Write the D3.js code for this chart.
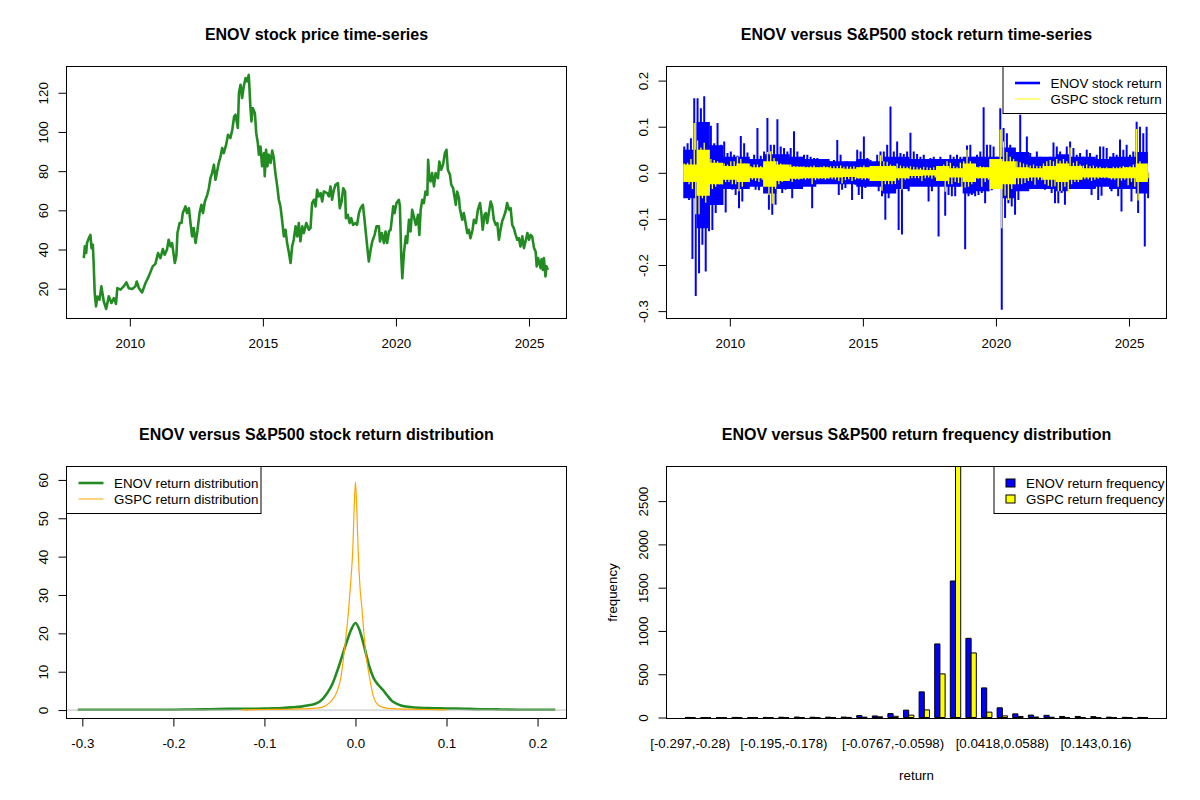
<!DOCTYPE html>
<html>
<head>
<meta charset="utf-8">
<script src="https://cdn.jsdelivr.net/npm/d3@7"></script>
<style>
body { margin: 0; background: #fff; }
svg { display: block; font-family: "Liberation Sans", Arial, sans-serif; }
</style>
</head>
<body>
<svg width="1200" height="800"></svg>
<script>
// ---- data ----
var priceYears = [2008.27, 2008.31, 2008.36, 2008.39, 2008.46, 2008.52, 2008.56, 2008.61, 2008.64, 2008.68,
    2008.73, 2008.78, 2008.86, 2008.93, 2009.02, 2009.11, 2009.21, 2009.31, 2009.40, 2009.48,
    2009.53, 2009.65, 2009.77, 2009.87, 2009.96, 2010.09, 2010.21, 2010.26, 2010.34, 2010.46,
    2010.59, 2010.71, 2010.86, 2010.96, 2011.06, 2011.15, 2011.24, 2011.31, 2011.40, 2011.46,
    2011.53, 2011.59, 2011.69, 2011.75, 2011.79, 2011.87, 2011.94, 2011.99, 2012.09, 2012.15,
    2012.22, 2012.28, 2012.34, 2012.40, 2012.47, 2012.54, 2012.62, 2012.69, 2012.75, 2012.82,
    2012.91, 2012.97, 2013.03, 2013.09, 2013.16, 2013.22, 2013.28, 2013.34, 2013.41, 2013.47,
    2013.53, 2013.62, 2013.69, 2013.78, 2013.85, 2013.92, 2013.97, 2014.06, 2014.10, 2014.16,
    2014.22, 2014.28, 2014.35, 2014.41, 2014.47, 2014.53, 2014.57, 2014.62, 2014.70, 2014.75,
    2014.81, 2014.85, 2014.91, 2014.97, 2015.04, 2015.07, 2015.12, 2015.17, 2015.22, 2015.29,
    2015.35, 2015.41, 2015.47, 2015.54, 2015.60, 2015.66, 2015.72, 2015.79, 2015.85, 2015.91,
    2015.98, 2016.04, 2016.10, 2016.16, 2016.23, 2016.29, 2016.35, 2016.41, 2016.48, 2016.54,
    2016.63, 2016.73, 2016.79, 2016.85, 2016.92, 2016.98, 2017.04, 2017.10, 2017.17, 2017.23,
    2017.29, 2017.42, 2017.48, 2017.54, 2017.60, 2017.67, 2017.73, 2017.82, 2017.89, 2017.96,
    2018.02, 2018.09, 2018.12, 2018.19, 2018.26, 2018.32, 2018.39, 2018.48, 2018.54, 2018.61,
    2018.67, 2018.76, 2018.82, 2018.87, 2018.92, 2018.98, 2019.05, 2019.11, 2019.20, 2019.27,
    2019.36, 2019.40, 2019.47, 2019.55, 2019.61, 2019.67, 2019.74, 2019.80, 2019.85, 2019.90,
    2019.95, 2020.02, 2020.11, 2020.15, 2020.20, 2020.24, 2020.30, 2020.37, 2020.42, 2020.49,
    2020.55, 2020.61, 2020.67, 2020.75, 2020.83, 2020.88, 2020.93, 2020.99, 2021.05, 2021.11,
    2021.18, 2021.21, 2021.25, 2021.30, 2021.36, 2021.43, 2021.49, 2021.58, 2021.63, 2021.70,
    2021.77, 2021.84, 2021.90, 2021.95, 2022.03, 2022.08, 2022.15, 2022.20, 2022.25, 2022.30,
    2022.37, 2022.40, 2022.49, 2022.55, 2022.62, 2022.68, 2022.74, 2022.80, 2022.88, 2022.93,
    2023.01, 2023.08, 2023.16, 2023.21, 2023.26, 2023.33, 2023.38, 2023.43, 2023.49, 2023.56,
    2023.62, 2023.68, 2023.75, 2023.81, 2023.87, 2023.93, 2023.99, 2024.06, 2024.12, 2024.18,
    2024.25, 2024.31, 2024.37, 2024.43, 2024.50, 2024.56, 2024.62, 2024.68, 2024.75, 2024.81,
    2024.87, 2024.94, 2025.00, 2025.06, 2025.12, 2025.19, 2025.25, 2025.29, 2025.34, 2025.39,
    2025.44, 2025.47, 2025.52, 2025.56, 2025.62, 2025.66, 2025.71];
var priceValues = [35.6, 41.6, 38.2, 43.3, 45.8, 47.5, 40.7, 42.4, 33.1, 17.8,
    11.0, 16.0, 14.4, 21.2, 13.6, 9.7, 16.1, 12.7, 15.2, 12.3,
    20.3, 19.5, 21.2, 23.2, 20.3, 19.8, 21.2, 23.7, 20.3, 18.1,
    22.9, 26.3, 31.4, 32.7, 38.2, 35.6, 40.2, 37.3, 40.2, 45.0,
    41.6, 43.3, 33.1, 36.9, 48.4, 53.5, 53.5, 58.6, 62.0, 58.6,
    61.1, 53.5, 46.7, 51.0, 43.3, 49.5, 58.6, 62.8, 58.6, 64.5,
    67.9, 71.3, 76.4, 79.0, 83.3, 75.6, 79.8, 84.1, 87.5, 91.8,
    89.2, 93.5, 98.6, 96.9, 101.1, 107.9, 108.8, 102.0, 119.9, 124.1,
    117.3, 123.2, 127.5, 125.8, 129.1, 113.0, 105.4, 112.2, 109.6, 99.4,
    94.3, 88.4, 92.6, 82.5, 89.2, 77.4, 90.9, 82.5, 88.4, 84.2,
    90.5, 86.7, 79.0, 72.2, 65.4, 62.0, 55.2, 46.7, 50.1, 43.3,
    38.2, 33.1, 41.6, 45.0, 51.8, 46.7, 53.5, 44.2, 51.8, 48.4,
    53.5, 50.1, 50.9, 63.7, 65.4, 62.0, 70.5, 67.1, 68.8, 64.5,
    69.6, 68.8, 67.1, 72.2, 65.4, 70.5, 73.0, 73.9, 61.1, 64.5,
    71.3, 69.6, 56.0, 57.7, 53.5, 56.0, 52.6, 53.5, 52.6, 58.6,
    61.1, 62.8, 55.2, 48.4, 41.6, 33.9, 39.9, 44.1, 47.5, 51.8,
    51.8, 44.1, 48.4, 43.3, 49.2, 43.3, 49.2, 50.1, 56.0, 62.0,
    58.6, 63.7, 65.4, 62.0, 36.5, 25.4, 38.2, 46.7, 43.3, 55.2,
    49.2, 60.3, 56.9, 52.6, 57.7, 47.5, 60.3, 65.4, 63.7, 69.6,
    67.9, 85.8, 77.3, 74.7, 79.0, 72.2, 79.0, 76.4, 84.9, 80.7,
    83.3, 89.2, 90.9, 80.7, 78.1, 73.0, 71.3, 67.1, 62.8, 69.6,
    66.2, 61.1, 55.2, 58.6, 53.5, 48.4, 50.1, 45.8, 50.1, 55.2,
    53.5, 60.3, 63.7, 58.6, 50.1, 57.7, 58.6, 53.5, 58.6, 64.5,
    62.0, 55.2, 52.6, 53.5, 45.0, 50.1, 54.3, 56.9, 59.4, 63.7,
    60.3, 61.1, 52.6, 50.9, 47.5, 45.0, 45.8, 41.6, 46.7, 40.7,
    44.1, 48.4, 45.0, 47.5, 46.7, 40.7, 39.0, 31.4, 35.6, 33.1,
    30.5, 35.0, 29.6, 35.6, 26.3, 31.4, 29.6];

// daily returns, summarised as highest / lowest value (percent) per 1.5-month block
var retStartYear = 2008.25;
var retBlockYears = 0.125;
var enovHi = [5.7, 6.4, 7.5, 16.2, 16.2, 14, 16.6, 10.4, 10.2, 6.4,
    10.8, 6.1, 6.8, 4.3, 4.6, 3.9, 3.7, 8, 6.4, 4.4,
    2.5, 3.9, 9.7, 3.7, 4.6, 11.9, 6.1, 6.1, 11.6, 5.7,
    5.4, 4.6, 5.4, 9, 4.6, 3.5, 3.9, 3.9, 3.5, 3.2,
    3.2, 2.8, 2.5, 2.1, 2.5, 2.8, 7.1, 3.9, 2.1, 2.5,
    2.1, 1.4, 5, 4.6, 7.9, 3.2, 2.8, 1.7, 3.9, 4.6,
    4.6, 6.1, 14.4, 4.6, 6.8, 4.3, 4.1, 4.6, 8.7, 4.6,
    4.1, 3.5, 3.9, 2.8, 3.2, 3.5, 2.8, 3.5, 2.1, 2.5,
    3.9, 3.5, 3.9, 3.5, 3.2, 5.9, 6.1, 3.5, 3.9, 4.6,
    14.2, 6.1, 6.1, 5.7, 3.5, 14, 9.7, 8.6, 6.1, 3.9,
    4.1, 12.6, 3.9, 7.9, 4.3, 2.5, 4.6, 3.5, 2.8, 2.8,
    3.5, 6.6, 5.7, 4.6, 3.5, 5.7, 6.8, 5.4, 3.9, 4.3,
    3.5, 5, 4.3, 2.5, 3.9, 5.7, 5.7, 5.4, 3.5, 4.3,
    3.9, 7.2, 5, 6.1, 3.9, 4.6, 11.1, 10, 8.6, 10];
var enovLo = [-3.3, -5.9, -18.7, -26.7, -21.8, -15.6, -21.4, -12.7, -12.4, -8.7,
    -6.9, -6.9, -8.6, -3, -3.7, -4.8, -7.7, -6.2, -2.2, -2.2,
    -2.2, -3.7, -3.8, -2.2, -3.3, -8, -9.1, -6.9, -3, -4.4,
    -3.7, -2.6, -5.5, -2.6, -2.2, -1.9, -2.6, -1.5, -7.7, -1.9,
    -1.9, -1.9, -1.9, -1.5, -1.9, -1.5, -4.8, -3.7, -3.3, -1.9,
    -5.9, -2.6, -4.8, -5.7, -3.3, -2.2, -1.5, -1.9, -4, -5.1,
    -10.2, -5.5, -3.7, -3.7, -12.4, -13.4, -3, -4, -2.2, -2.6,
    -2.2, -2.6, -2.2, -6.2, -4, -1.5, -13.8, -1.5, -9.3, -4.8,
    -5.1, -5.1, -3, -2.6, -16.6, -5.1, -4.8, -5.1, -4.8, -4.4,
    -6.6, -4, -3.8, -1.5, -1.5, -29.7, -9.8, -6.6, -7.3, -9.1,
    -5.9, -3, -3.3, -1.5, -3.3, -1.5, -3, -2.2, -3.7, -2.2,
    -4.4, -6.6, -6.6, -4.4, -6.9, -2.2, -1.9, -2.2, -2.2, -1.2,
    -1.9, -3, -4.8, -3.3, -5.9, -5, -1.9, -2.2, -4, -2.2,
    -5.1, -8.4, -3.3, -3, -6.2, -2.2, -8.7, -4.4, -16, -5.5];
var gspcHi = [2, 2.2, 3, 10.8, 7, 5.5, 6.5, 3.5, 3, 2.8,
    2.5, 2, 2, 1.8, 2.5, 2.5, 3.5, 3, 2, 1.8,
    1.5, 1.8, 1.8, 1.5, 1.6, 4.5, 4.7, 3.2, 2.5, 2,
    1.8, 1.5, 1.8, 1.5, 1.4, 1.3, 1.4, 1.3, 1.4, 1.6,
    1.2, 1.3, 1.5, 1.3, 1.4, 1.4, 1.5, 1.6, 1.3, 1.4,
    1.3, 1.4, 1.2, 1.3, 1.6, 1.2, 1.2, 1.3, 1.5, 3.8,
    2.5, 2.4, 1.8, 1.6, 2, 1.6, 1.4, 1.3, 1.4, 1.3,
    1.2, 1.1, 1.3, 1.2, 1.1, 1.2, 1, 1.2, 1.8, 2.5,
    2.2, 1.5, 1.3, 2.2, 2.5, 5, 2.5, 1.5, 1.3, 1.5,
    1.3, 1.2, 1.3, 1.6, 1.5, 9.4, 6.8, 4.5, 3.5, 3,
    2.5, 2.3, 2, 1.8, 1.6, 1.8, 1.5, 1.5, 2, 2.5,
    2.8, 2.5, 3, 2.6, 3, 2.5, 5.5, 2.2, 2.5, 1.8,
    1.6, 1.8, 1.5, 1.6, 1.3, 1.3, 1.1, 1.2, 1, 1.3,
    1.2, 1.3, 1.5, 1.2, 1.4, 1.8, 9.5, 2.5, 1.6, 1.3];
var gspcLo = [-2, -2.5, -3.5, -9, -9, -5.5, -6.5, -4, -3.5, -3,
    -2.5, -2.5, -2, -2, -2.5, -2.5, -4, -3, -2, -2,
    -1.5, -1.8, -2, -1.5, -1.8, -4.8, -6.7, -3.5, -2.5, -2,
    -1.8, -1.8, -2, -1.5, -1.5, -1.3, -1.5, -1.3, -2.5, -1.6,
    -1.4, -1.3, -1.5, -1.3, -1.4, -1.5, -1.8, -2.3, -1.6, -1.4,
    -1.8, -1.5, -1.3, -1.5, -1.5, -1.3, -1.4, -1.5, -1.5, -3.9,
    -2.5, -2.5, -2.5, -2.4, -1.6, -3.6, -1.5, -1.3, -1.2, -1.2,
    -1.2, -1.8, -1.2, -1, -1.3, -1, -1.2, -1.1, -4.1, -2.5,
    -2.5, -2, -2.2, -3.3, -3.2, -3, -2.5, -2, -1.3, -3,
    -2, -1.5, -1.5, -1.8, -3.4, -12, -5, -5.9, -3.5, -2.5,
    -2.5, -2.5, -2.2, -1.8, -1.8, -2.6, -1.5, -1.6, -2.5, -2.8,
    -3, -2.9, -4, -3.9, -3, -4.3, -2.5, -2, -2, -1.5,
    -1.4, -1.4, -1.8, -1.5, -1.3, -1.1, -1.2, -1.2, -1.5, -1.5,
    -3, -1.7, -1.5, -2.7, -2, -3, -6, -2, -1.5, -1.2];
// the solid middle of each return band (percent), per half year
var coreBlockYears = 0.5;
var enovCoreHi = [5, 11, 6, 3.5, 3.5, 3, 4, 4, 3.5, 3, 3, 2.5, 2.5, 3, 2.5, 3.5, 3.5, 3,
    3, 3, 3, 3.5, 3.5, 3.5, 5.5, 4.5, 3.5, 3.5, 4, 3.5, 3.5, 3, 3.5, 3.5, 4.5];
var enovCoreLo = [-5.5, -12, -7, -3.5, -3.5, -3, -4.5, -3.5, -3.5, -3, -2.5, -2.5, -2.5, -3, -3, -4.5, -3.5, -3,
    -3, -3, -3, -4.5, -4, -3.5, -5.5, -4, -3.5, -3.5, -4, -3.5, -3.5, -3, -3.5, -3.5, -4.5];
var gspcCoreHi = [1.8, 5, 2.2, 1.5, 2, 1.2, 2.5, 1.8, 1.3, 1.2, 1.2, 1, 0.9, 1.2, 1.5, 1.5, 1, 0.7,
    0.6, 1.5, 1, 2, 1.2, 3, 2.5, 1.2, 1, 1.5, 2, 1.5, 1, 1, 1, 1.2, 2];
var gspcCoreLo = [-2, -5, -2.5, -1.5, -2, -1.2, -3, -1.8, -1.3, -1.2, -1.2, -1, -0.9, -1.2, -1.8, -1.8, -1.2, -0.7,
    -0.6, -1.8, -1, -2, -1.2, -3.5, -2.5, -1.2, -1, -1.5, -2, -1.5, -1, -1, -1.2, -1.2, -2];

var enovDensX = [-0.305, -0.28, -0.25, -0.22, -0.2, -0.18, -0.16, -0.14, -0.13, -0.12,
    -0.11, -0.1, -0.09, -0.08, -0.07, -0.06, -0.05, -0.045, -0.04, -0.035,
    -0.03, -0.025, -0.02, -0.015, -0.01, -0.005, 0, 0.005, 0.01, 0.015,
    0.02, 0.025, 0.03, 0.035, 0.04, 0.045, 0.05, 0.06, 0.07, 0.08,
    0.09, 0.1, 0.11, 0.12, 0.13, 0.14, 0.15, 0.16, 0.18, 0.2, 0.2195];
var enovDensY = [0.1, 0.1, 0.1, 0.1, 0.1, 0.15, 0.2, 0.3, 0.35, 0.3,
    0.35, 0.4, 0.45, 0.55, 0.7, 0.9, 1.3, 1.6, 2.1, 3.2,
    4.8, 7, 10.2, 13.8, 17.5, 20.8, 22.7, 20.5, 16.2, 11.5,
    8.3, 6.6, 5.3, 3.8, 2.4, 1.7, 1.2, 0.8, 0.6, 0.5,
    0.45, 0.4, 0.4, 0.35, 0.25, 0.2, 0.2, 0.15, 0.1, 0.1, 0.1];
var gspcDensX = [-0.125, -0.1, -0.08, -0.06, -0.05, -0.04, -0.037, -0.028, -0.02, -0.016,
    -0.012, -0.0076, -0.005, -0.003, -0.0015, 0, 0.0015, 0.003, 0.005, 0.007,
    0.011, 0.0155, 0.02, 0.026, 0.034, 0.045, 0.06, 0.08, 0.1];
var gspcDensY = [0.05, 0.15, 0.2, 0.3, 0.4, 0.55, 0.7, 2, 5, 8.5,
    16, 25.9, 34, 41.5, 52, 59.5, 52, 41.5, 32, 26.7,
    15.5, 8.5, 3.3, 1.1, 0.5, 0.3, 0.25, 0.15, 0.05];

var binLabels = ["[-0.297,-0.28)", "[-0.28,-0.263)", "[-0.263,-0.246)", "[-0.246,-0.229)", "[-0.229,-0.212)",
    "[-0.212,-0.195)", "[-0.195,-0.178)", "[-0.178,-0.161)", "[-0.161,-0.144)", "[-0.144,-0.127)",
    "[-0.127,-0.11)", "[-0.11,-0.0936)", "[-0.0936,-0.0767)", "[-0.0767,-0.0598)", "[-0.0598,-0.0428)",
    "[-0.0428,-0.0259)", "[-0.0259,-0.00892)", "[-0.00892,0.00803)", "[0.00803,0.025)", "[0.025,0.0418)",
    "[0.0418,0.0588)", "[0.0588,0.0757)", "[0.0757,0.0927)", "[0.0927,0.11)", "[0.11,0.127)",
    "[0.127,0.143)", "[0.143,0.16)", "[0.16,0.177)", "[0.177,0.194)", "[0.194,0.211]"];
var enovFreq = [1, 0, 0, 1, 0, 1, 3, 5, 3, 4, 5, 22, 18, 45, 85, 296, 850, 1577, 915, 342,
    112, 42, 28, 25, 12, 12, 10, 4, 2, 1];
var gspcFreq = [0, 0, 0, 0, 0, 0, 0, 0, 0, 0, 1, 4, 8, 14, 27, 88, 504, 2900, 746, 62,
    19, 12, 6, 3, 0, 0, 0, 0, 0, 0];
var shownBinLabels = [0, 6, 13, 20, 26];

var yearTicks = [2010, 2015, 2020, 2025];
var priceTicks = [20, 40, 60, 80, 100, 120];
var returnTicks = [-0.3, -0.2, -0.1, 0, 0.1, 0.2];
var densityXTicks = [-0.3, -0.2, -0.1, 0, 0.1, 0.2];
var densityYTicks = [0, 10, 20, 30, 40, 50, 60];
var freqTicks = [0, 500, 1000, 1500, 2000, 2500];

// ---- layout ----
var svg = d3.select('svg');
var W = 500, H = 252;
var AXIS_FONT = '13.33px';
var oneDec = function (d) { return d.toFixed(1); };

function panel(col, row, title) {
    var g = svg.append('g')
        .attr('transform', 'translate(' + (col * 600 + 66.5) + ',' + (row * 400 + 66.5) + ')');
    g.append('defs').append('clipPath').attr('id', 'clip' + col + row)
        .append('rect').attr('width', W).attr('height', H);
    g.append('text')
        .attr('x', W / 2).attr('y', -26.5)
        .attr('text-anchor', 'middle')
        .style('font-size', '16px').style('font-weight', 'bold')
        .text(title);
    g.plot = g.append('g').attr('clip-path', 'url(#clip' + col + row + ')');
    return g;
}

function bottomAxis(g, scale, ticks, fmt) {
    var a = g.append('g').attr('transform', 'translate(0,' + H + ')')
        .call(d3.axisBottom(scale).tickValues(ticks).tickFormat(fmt).tickSize(8));
    a.attr('font-size', null).attr('font-family', null);
    a.select('.domain').remove();
    a.selectAll('text').attr('y', 29.5).attr('dy', null).style('font-size', AXIS_FONT).attr('fill', '#000');
    a.selectAll('line').attr('stroke', '#000');
}

function leftAxis(g, scale, ticks, fmt) {
    var a = g.append('g')
        .call(d3.axisLeft(scale).tickValues(ticks).tickFormat(fmt).tickSize(8));
    a.attr('font-size', null).attr('font-family', null);
    a.select('.domain').remove();
    a.selectAll('text')
        .attr('x', 0).attr('y', -18.5).attr('dy', null)
        .attr('text-anchor', 'middle')
        .attr('transform', 'rotate(-90)')
        .style('font-size', AXIS_FONT).attr('fill', '#000');
    a.selectAll('line').attr('stroke', '#000');
}

function box(g) {
    g.append('rect').attr('width', W).attr('height', H)
        .attr('fill', 'none').attr('stroke', '#000').attr('stroke-width', 1);
}

function legend(g, x, width, items) {
    var lg = g.append('g').attr('transform', 'translate(' + x + ',0)');
    lg.append('rect').attr('width', width).attr('height', 47)
        .attr('fill', '#fff').attr('stroke', '#000');
    items.forEach(function (it, i) {
        var cy = 16.5 + i * 16;
        if (it.fill) {
            lg.append('rect').attr('x', 12).attr('y', cy - 4).attr('width', 9).attr('height', 8)
                .attr('fill', it.fill).attr('stroke', '#000');
        } else {
            lg.append('line').attr('x1', 12).attr('x2', 37).attr('y1', cy).attr('y2', cy)
                .attr('stroke', it.color).attr('stroke-width', it.width);
        }
        lg.append('text').attr('x', it.fill ? 32 : 47.5).attr('y', cy).attr('dy', '0.35em')
            .style('font-size', AXIS_FONT).text(it.label);
    });
}

// ---- panel 1: price ----
var xYear = d3.scaleLinear().domain([2007.62, 2026.41]).range([0, W]);
var yPrice = d3.scaleLinear().domain([4.8, 133.4]).range([H, 0]);
var p1 = panel(0, 0, 'ENOV stock price time-series');
p1.plot.append('path')
    .datum(priceYears.map(function (d, i) { return [d, priceValues[i]]; }))
    .attr('fill', 'none').attr('stroke', '#228B22').attr('stroke-width', 2.6)
    .attr('stroke-linejoin', 'round')
    .attr('d', d3.line().x(function (d) { return xYear(d[0]); }).y(function (d) { return yPrice(d[1]); }));
box(p1);
bottomAxis(p1, xYear, yearTicks, d3.format('d'));
leftAxis(p1, yPrice, priceTicks, d3.format('d'));

// ---- panel 2: returns ----
var yRet = d3.scaleLinear().domain([-0.316, 0.2306]).range([H, 0]);
function coreBand(hi, lo) {
    var pts = [];
    hi.forEach(function (h, i) {
        var x0 = retStartYear + coreBlockYears * i;
        pts.push([x0, h / 100, lo[i] / 100]);
        pts.push([Math.min(x0 + coreBlockYears, 2025.71), h / 100, lo[i] / 100]);
    });
    return pts;
}
function spikes(hi, lo) {
    var p = '';
    hi.forEach(function (h, i) {
        var xa = xYear(retStartYear + retBlockYears * (i + 0.3));
        var xb = xYear(retStartYear + retBlockYears * (i + 0.75));
        p += 'M' + xa + ',' + yRet(0) + 'V' + yRet(h / 100);
        p += 'M' + xb + ',' + yRet(0) + 'V' + yRet(lo[i] / 100);
    });
    return p;
}
var coreArea = d3.area().curve(d3.curveMonotoneX)
    .x(function (d) { return xYear(d[0]); })
    .y0(function (d) { return yRet(d[2]); })
    .y1(function (d) { return yRet(d[1]); });
var p2 = panel(1, 0, 'ENOV versus S&P500 stock return time-series');
p2.plot.append('path').datum(coreBand(enovCoreHi, enovCoreLo))
    .attr('fill', '#0000FF').attr('d', coreArea);
p2.plot.append('path').attr('d', spikes(enovHi, enovLo))
    .attr('fill', 'none').attr('stroke', '#0000FF').attr('stroke-width', 2);
p2.plot.append('path').datum(coreBand(gspcCoreHi, gspcCoreLo))
    .attr('fill', '#FFFF00').attr('d', coreArea);
p2.plot.append('path').attr('d', spikes(gspcHi, gspcLo))
    .attr('fill', 'none').attr('stroke', '#FFFF00').attr('stroke-width', 1.3);
box(p2);
bottomAxis(p2, xYear, yearTicks, d3.format('d'));
leftAxis(p2, yRet, returnTicks, oneDec);
legend(p2, 336.5, 163.5, [
    { label: 'ENOV stock return', color: '#0000FF', width: 2.6 },
    { label: 'GSPC stock return', color: '#FFFF00', width: 1 }
]);

// ---- panel 3: density ----
var xDens = d3.scaleLinear().domain([-0.3174, 0.2318]).range([0, W]);
var yDens = d3.scaleLinear().domain([-2.2, 63.5]).range([H, 0]);
var densLine = d3.line().curve(d3.curveMonotoneX)
    .x(function (d) { return xDens(d[0]); }).y(function (d) { return yDens(d[1]); });
var p3 = panel(0, 1, 'ENOV versus S&P500 stock return distribution');
p3.plot.append('path').datum(enovDensX.map(function (d, i) { return [d, enovDensY[i]]; }))
    .attr('fill', 'none').attr('stroke', '#228B22').attr('stroke-width', 2.6).attr('d', densLine);
p3.plot.append('line').attr('x1', 0).attr('x2', W).attr('y1', yDens(0)).attr('y2', yDens(0))
    .attr('stroke', '#BEBEBE').attr('stroke-width', 1);
p3.plot.append('path').datum(gspcDensX.map(function (d, i) { return [d, gspcDensY[i]]; }))
    .attr('fill', 'none').attr('stroke', '#FFA500').attr('stroke-width', 1.2).attr('d', densLine);
box(p3);
bottomAxis(p3, xDens, densityXTicks, oneDec);
leftAxis(p3, yDens, densityYTicks, d3.format('d'));
legend(p3, 0, 194.5, [
    { label: 'ENOV return distribution', color: '#228B22', width: 2.6 },
    { label: 'GSPC return distribution', color: '#FFA500', width: 1 }
]);

// ---- panel 4: grouped histogram ----
var nBins = binLabels.length;
var xBar = d3.scaleLinear().domain([1 - 0.04 * (3 * nBins - 1), 3 * nBins + 0.04 * (3 * nBins - 1)]).range([0, W]);
var yFreq = d3.scaleLinear().domain([-11.5, 2900]).range([H, 0]);
var p4 = panel(1, 1, 'ENOV versus S&P500 return frequency distribution');
function barPath(x0, v) {
    var l = xBar(x0), r = xBar(x0 + 1), b = yFreq(0), t = yFreq(v);
    return 'M' + l + ',' + b + 'V' + t + 'H' + r + 'V' + b + 'Z';
}
var groups = p4.append('g');
binLabels.forEach(function (lab, k) {
    groups.append('path').attr('d', barPath(3 * k + 1, enovFreq[k]))
        .attr('fill', '#0000FF').attr('stroke', '#000').attr('stroke-width', 1);
    groups.append('path').attr('d', barPath(3 * k + 2, gspcFreq[k]))
        .attr('fill', '#FFFF00').attr('stroke', '#000').attr('stroke-width', 1);
});
p4.append('g').selectAll('text').data(shownBinLabels).join('text')
    .attr('x', function (k) { return xBar(3 * k + 2); })
    .attr('y', H + 29.5)
    .attr('text-anchor', 'middle')
    .style('font-size', AXIS_FONT)
    .text(function (k) { return binLabels[k]; });
box(p4);
leftAxis(p4, yFreq, freqTicks, d3.format('d'));
p4.append('text').attr('x', W / 2).attr('y', H + 61)
    .attr('text-anchor', 'middle').style('font-size', AXIS_FONT).text('return');
p4.append('text').attr('transform', 'translate(-50,' + (H / 2) + ') rotate(-90)')
    .attr('text-anchor', 'middle').style('font-size', AXIS_FONT).text('frequency');
legend(p4, 327.5, 172.5, [
    { label: 'ENOV return frequency', fill: '#0000FF' },
    { label: 'GSPC return frequency', fill: '#FFFF00' }
]);
</script>
</body>
</html>
